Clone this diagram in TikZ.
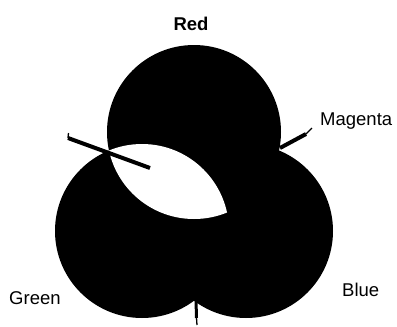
\documentclass[tikz,border=0pt]{standalone}
\usepackage{fontspec}
\setmainfont{Liberation Sans}
\begin{document}
\begin{tikzpicture}[x=1pt,y=-1pt,
  disc/.style={circle,fill=black,inner sep=0pt,minimum size=174pt},
  lbl/.style={font=\fontsize{18.5}{20}\selectfont,inner sep=0pt,anchor=base},
  leader/.style={line width=4pt,line cap=butt},
  thinleader/.style={line width=1.3pt}]
\useasboundingbox (0,0) rectangle (397,327);
\fill[white] (0,0) rectangle (397,327);
% circles
\node[disc] (R) at (194,132) {};
\node[disc] (G) at (142,231) {};
\node[disc] (B) at (246,231) {};
% white lens: Red and Green overlap
\begin{scope}
  \clip (R.center) circle (87pt);
  \fill[white] (G.center) circle (87pt);
\end{scope}
% labels
\node[lbl,font=\fontsize{18.5}{20}\selectfont\bfseries] (tR) at (191,30.5) {Red};
\node[lbl,anchor=base west] (tM) at (320,125) {Magenta};
\node[lbl,anchor=base west] (tG) at (9,304) {Green};
\node[lbl,anchor=base west] (tB) at (342,296) {Blue};
% leader coordinates
\coordinate (ya) at (68,138);
\coordinate (yb) at (150,168);
\coordinate (yh) at (68.5,133);
\coordinate (ma) at (280,148);
\coordinate (mb) at (306,134);
\coordinate (mc) at (312,128);
\coordinate (ba) at (196,300);
\coordinate (bb) at (196.5,318);
\coordinate (bc) at (197,325);
% leaders
\draw[leader] (ya) -- (yb);
\draw[thinleader] (yh) -- (ya);
\draw[leader] (ma) -- (mb);
\draw[thinleader] (mb) -- (mc);
\draw[line width=3pt] (ba) -- (bb);
\draw[thinleader] (bb) -- (bc);
\end{tikzpicture}
\end{document}
